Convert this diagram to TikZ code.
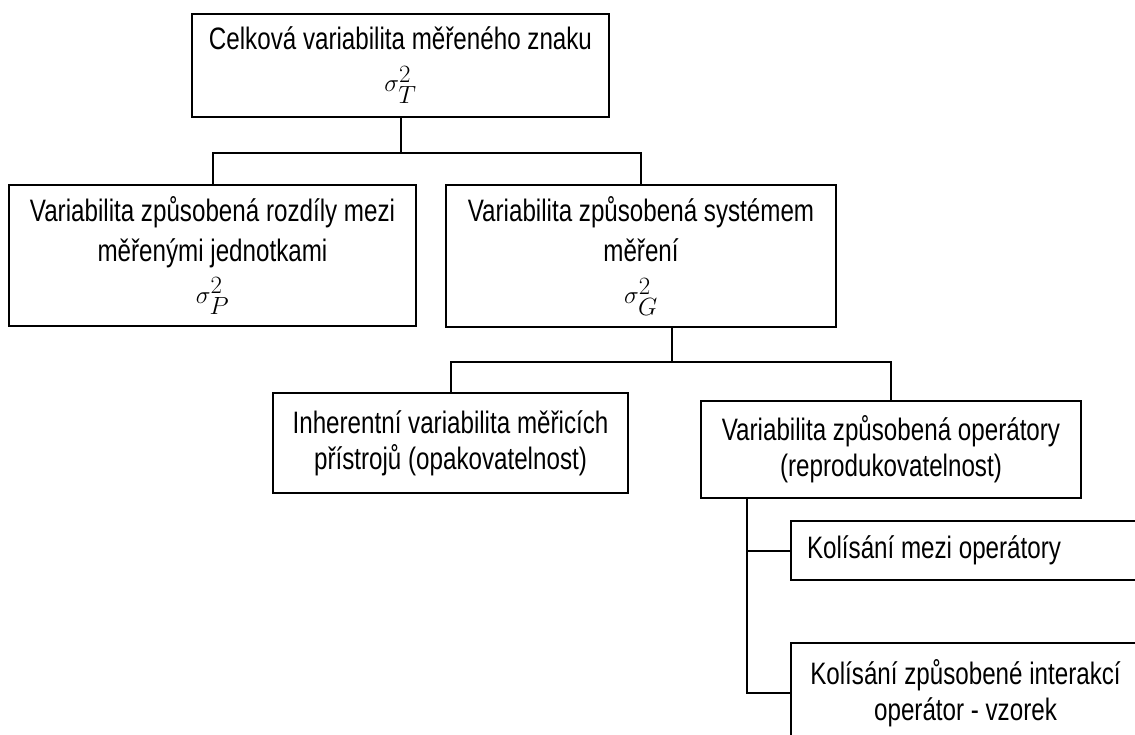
\documentclass[tikz,border=0pt]{standalone}
\usepackage{amsmath}
\usepackage[no-math]{fontspec}
\setmainfont{Liberation Sans}[FakeStretch=0.78]
\newcommand{\var}[1]{{\fontsize{37}{37}\selectfont$\sigma_{#1}^2$}}

\begin{document}
\begin{tikzpicture}[x=1pt, y=-1pt, line width=2pt,
    box/.style={draw, line width=2pt, align=center, inner sep=0pt,
        font=\fontsize{31}{40}\selectfont},
    tight/.style={font=\fontsize{31}{36}\selectfont}]
        % Fix the frame of the picture
        \path[use as bounding box, clip] (0,0) rectangle (1135,735);

        % Draw the boxes of the first two levels
        \node[box, minimum width=417pt, minimum height=103pt] (total) at (400.5,65.5)
            {Celková variabilita měřeného znaku\\[2pt] \var{T}};
        \node[box, minimum width=407pt, minimum height=141pt] (units) at (212.5,255.5)
            {Variabilita způsobená rozdíly mezi\\ měřenými jednotkami\\[2pt] \var{P}};
        \node[box, minimum width=390pt, minimum height=142pt] (system) at (641,256)
            {Variabilita způsobená systémem\\ měření\\[2pt] \var{G}};

        % Draw the boxes of the measuring system
        \node[box, tight, minimum width=355pt, minimum height=100pt] (inherent) at (450.5,443)
            {Inherentní variabilita měřicích\\ přístrojů (opakovatelnost)};
        \node[box, tight, minimum width=380pt, minimum height=97pt] (operators) at (891,449.5)
            {Variabilita způsobená operátory\\ (reprodukovatelnost)};

        % Draw the boxes of the operators (cut by the right edge)
        \node[box, align=flush left, text width=317pt, inner xsep=16pt, minimum height=59pt] (mezi) at (965.5,550.5)
            {Kolísání mezi operátory};
        \node[box, tight, minimum width=349pt, minimum height=100pt] (interakce) at (965.5,693)
            {Kolísání způsobené interakcí\\ operátor - vzorek};

        % Draw the connectors
        \coordinate (split1) at (400.5,153);
        \coordinate (split2) at (671.5,362);
        \coordinate (rail) at (747,0);
        \draw (split1) -- (total.south);
        \foreach \child in {units,system} {
            \draw (split1) -| (\child.north);
        }
        \draw (split2) -- (split2 |- system.south);
        \foreach \child in {inherent,operators} {
            \draw (split2) -| (\child.north);
        }
        \draw (operators.south -| rail) |- (interakce.west);
        \draw (mezi.west -| rail) -- (mezi.west);
    \end{tikzpicture}
\end{document}
